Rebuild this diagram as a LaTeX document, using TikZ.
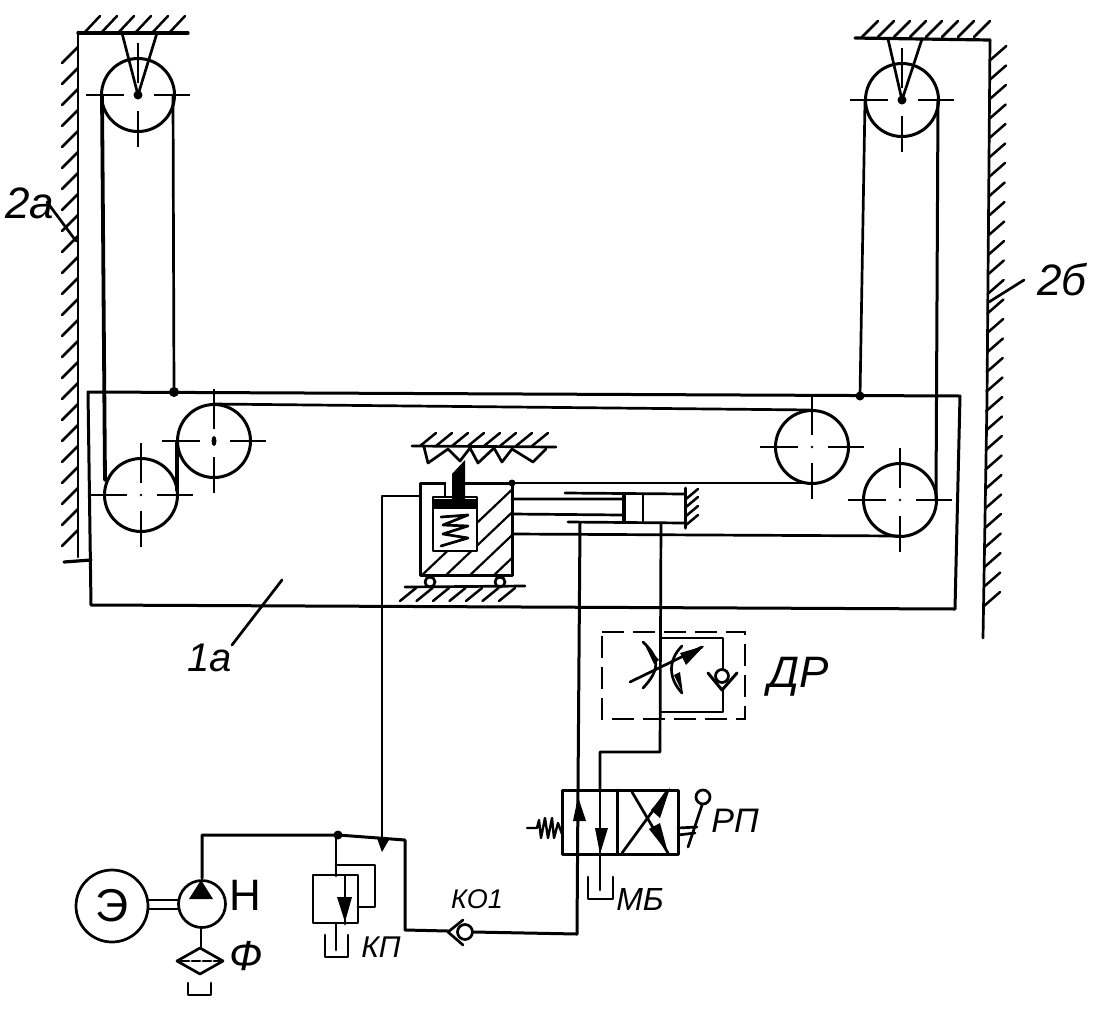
\documentclass[tikz,border=0pt]{standalone}
\usepackage{fontspec}
\setmainfont{Liberation Sans}
\usetikzlibrary{calc}
\tikzset{
 line/.style={line width=2.7pt,line cap=round,line join=round},
 heavy/.style={line width=3.8pt,line cap=round,line join=round},
 pulley/.style={circle,draw,line width=3pt,minimum size=73pt,inner sep=0pt},
 axis/.style={line width=1.5pt},
 hatchline/.style={line width=2.5pt,line cap=round},
 lbl/.style={font=\itshape\fontsize{#1}{#1}\selectfont,inner sep=0pt},
 upl/.style={font=\fontsize{#1}{#1}\selectfont,inner sep=0pt},
 dashbox/.style={line width=2pt,dash pattern=on 22pt off 9pt},
}
\newcommand{\cross}[1]{%
 \draw[axis] ($(#1)+(-52,0)$)--($(#1)+(-14,0)$) ($(#1)+(16,0)$)--($(#1)+(52,0)$)
             ($(#1)+(0,-52)$)--($(#1)+(0,-12)$) ($(#1)+(0,16)$)--($(#1)+(0,52)$);}
\begin{document}
\begin{tikzpicture}[x=1pt,y=-1pt]
\useasboundingbox[fill=white] (0,0) rectangle (1117,1010);
% pulleys
\node[pulley] (p1) at (138,95) {};
\node[pulley] (p2) at (902,100) {};
\node[pulley] (p3) at (141,495) {};
\node[pulley] (p4) at (214,441) {};
\node[pulley] (p5) at (812,447) {};
\node[pulley] (p6) at (900,500) {};
\foreach \p in {p1,p2,p3,p4,p5,p6}{\cross{\p}}
\fill (p3) circle (1.3pt) (p5) circle (1.3pt) (p6) circle (1.3pt);
\fill (p4) ellipse (2.5pt and 5pt);
% walls left
\draw[line] (78,32)--(78,557);
\draw[line,line width=3.2pt] (78,33)--(188,33);
\foreach \x in {85,102,119,136,153,170}{\draw[hatchline] (\x,32)--(\x+15,16);}
\foreach \y in {47,68,...,540}{\draw[hatchline] (78,\y)--(62,\y+16);}
\draw[line] (122,33)--(p1.center)--(157,33);
\fill (p1) circle (4.5pt);
% walls right
\draw[line] (990,40)--(987,400)--(983,638);
\draw[line,line width=3.2pt] (855,38)--(990,40);
\foreach \x in {862,878,...,985}{\draw[hatchline] (\x,37)--(\x+16,21);}
\foreach \y in {60,79.5,...,625}{\draw[hatchline] (991-\y*0.0115,\y)--(1007-\y*0.0115,\y-14);}
\draw[line] (888,39)--(p2.center)--(922,39);
\fill (p2) circle (4.5pt);
% carriage frame
\draw[line,line width=3.2pt] (64,562)--(91,560);
\draw[line,line width=3pt] (88,392)--(960,396)--(955,609)--(91,605)--cycle;
% cables
\draw[heavy] (102,95)--(105,480);
\draw[line] (173,95)--(174,392);
\fill (174,392) circle (5pt);
\draw[line] (865,101)--(860,396);
\fill (860,396) circle (4.5pt);
\draw[line,line width=3pt] (938,100)--(936,499);
\draw[heavy] (177,490)--(177,443);
\draw[line] (213,404)--(812,410);
\draw[line] (512,483)--(812,483);
\draw[line] (512,534)--(900,536);
% overhead rack
\draw[line] (412,446)--(556,447);
\foreach \x in {420,436,...,540}{\draw[hatchline] (\x,446)--(\x+16,433);}
\draw[line] (424,447)--(428,463)--(448,449)--(460,461)--(470,448)--(478,463)--(494,448)--(502,462)--(512,449)--(533,462)--(546,449);
% follower block
\begin{scope}
\clip (420,483) rectangle (512,575);
\foreach \s in {0,24,...,170}{\draw[line width=2.2pt] (420+\s,577)--(520+\s,482);}
\end{scope}
\draw[line,line width=3pt] (420,483)--(512,483)--(512,575)--(420,575)--cycle;
\fill (512,483) circle (3.5pt);
\fill[white] (434,497) rectangle (477,551);
\fill[white] (446,478) rectangle (465,497);
\draw[line] (445,483)--(445,496);
\draw[line] (433,497)--(433,551)--(477,551)--(477,497)--cycle;
\fill (432,499) rectangle (478,509);
\fill (452,500)--(452,474)--(465,460)--(465,500)--cycle;
\draw[line] (441,517)--(468,515)--(443,525)--(468,526)--(443,534)--(468,538)--(441,546);
% rollers and base
\draw[line] (430,582) circle (5pt) (500,582) circle (5pt);
\draw[line] (405,587)--(525,586);
\foreach \x in {400,416.5,...,515}{\draw[hatchline] (\x,601)--(\x+16,588);}
% cylinder
\draw[line] (512,499)--(622,499) (512,514)--(622,515);
\draw[line] (565,493)--(685,494);
\draw[line] (568,522)--(685,523);
\draw[line,line width=4pt] (624,495)--(624,521);
\draw[line] (643,495)--(643,521);
\draw[line,line width=3pt] (685,488)--(685,528);
\foreach \y in {490,498,507,516}{\draw[hatchline] (686,\y+9)--(698,\y-1);}
% lines from cylinder
\draw[line,line width=3pt] (580,523)--(578,790);
\draw[line] (661,523)--(660,752)--(600,752)--(600,790);
% hydraulic line to pump
\draw[line] (420,496)--(382,496)--(382,838);
% throttle block
\draw[dashbox] (602,632)--(745,632)--(745,719)--(602,719)--cycle;
\draw[line] (661,638)--(723,638)--(723,670);
\draw[line] (661,712)--(723,712)--(723,690);
\draw[line] (722,676) circle (6.5pt);
\draw[line,line width=3pt] (708,673)--(722,690)--(737,673);
\draw[line] (630,682)--(702,647);
\fill (704,646)--(680,653)--(686,665)--cycle;
\draw[line] (643,642) .. controls (660,658) and (660,670) .. (643,688);
\fill (643,641)--(659,660)--(654,664)--cycle;
\draw[line] (682,646) .. controls (668,660) and (668,678) .. (682,693);
\fill (683,694)--(674,675)--(680,672)--cycle;
% valve
\draw[line,line width=3pt] (562,790)--(678,790)--(678,854)--(562,854)--cycle;
\draw[line,line width=3pt] (617,790)--(617,854);
\draw[line,line width=3pt] (578,790)--(577,934);
\fill (578,797)--(573,821)--(586,821)--cycle;
\draw[line] (600,790)--(600,890);
\fill (600,854)--(595,828)--(608,828)--cycle;
\draw[line] (622,853)--(668,790);
\draw[line] (632,792)--(668,853);
\fill (670,788)--(651,810)--(660,818)--cycle;
\fill (668,853)--(649,829)--(660,823)--cycle;
% valve spring
\draw[line,line width=2.4pt] (527,828)--(537,828)--(539,820)--(541,838)--(545,818)--(548,838)--(552,818)--(554,838)--(558,823)--(562,834);
% lever
\draw[line] (678,828)--(697,827) (678,835)--(695,833);
\draw[line] (688,847)--(702,805);
\draw[line] (703,797) circle (7pt);
% tank MB
\draw[line] (588,877)--(588,899)--(613,899)--(613,877);
% pressure line
\draw[line,line width=3pt] (202,878)--(202,835)--(338,835)--(405,840)--(405,930)--(448,931);
\draw[line,line width=3pt] (473,932)--(577,934);
\fill (338,835) circle (4.5pt);
\fill (377,838)--(390,838)--(382,852)--cycle;
\draw[line] (336,835)--(336,876);
% relief valve
\draw[line] (313,875)--(358,875)--(358,923)--(313,923)--cycle;
\draw[line] (336,865)--(375,865)--(375,907)--(358,907);
\draw[line] (345,876)--(345,924);
\fill (337,897)--(352,897)--(345,922)--cycle;
\draw[line] (325,935)--(325,957)--(348,957)--(348,935);
\draw[line] (336,923)--(336,950);
% check valve
\draw[line] (465,932) circle (7.5pt);
\draw[line] (463,920)--(448,932)--(463,945);
% motor, pump
\node[circle,draw,line width=2.7pt,minimum size=72pt,inner sep=0pt,upl=46] (motor) at (112,906) {Э};
\node[circle,draw,line width=2.7pt,minimum size=47pt,inner sep=0pt] (pump) at (202,904) {};
\fill (201,880)--(189,899)--(213,899)--cycle;
\draw[line] (148,900)--(179,900) (149,909)--(179,909);
\draw[line] (201,928)--(201,948);
\draw[line] (200,948)--(223,961)--(200,974)--(177,961)--cycle;
\draw[line,dash pattern=on 8pt off 3pt] (181,961)--(220,961);
\draw[line] (188,983)--(188,995)--(211,995)--(211,983);
% leaders
\draw[line] (47,202)--(76,241);
\draw[line] (989,302)--(1024,280);
\draw[line] (232,645)--(282,580);
% labels
\node[lbl=44] (t2a) at (30,203) {2а};
\node[lbl=44] (t2b) at (1062,280) {2б};
\node[lbl=40] (t1a) at (210,658) {1а};
\node[lbl=44] (tdr) at (799,677) {ДР};
\node[lbl=34] (trp) at (735,821) {РП};
\node[lbl=32] (tmb) at (640,899) {МБ};
\node[lbl=27] (tko) at (477,899) {КО1};
\node[lbl=30] (tkp) at (381,947) {КП};
\node[upl=44] (tn) at (245,895) {Н};
\node[lbl=42] (tf) at (246,956) {Ф};
\end{tikzpicture}
\end{document}
